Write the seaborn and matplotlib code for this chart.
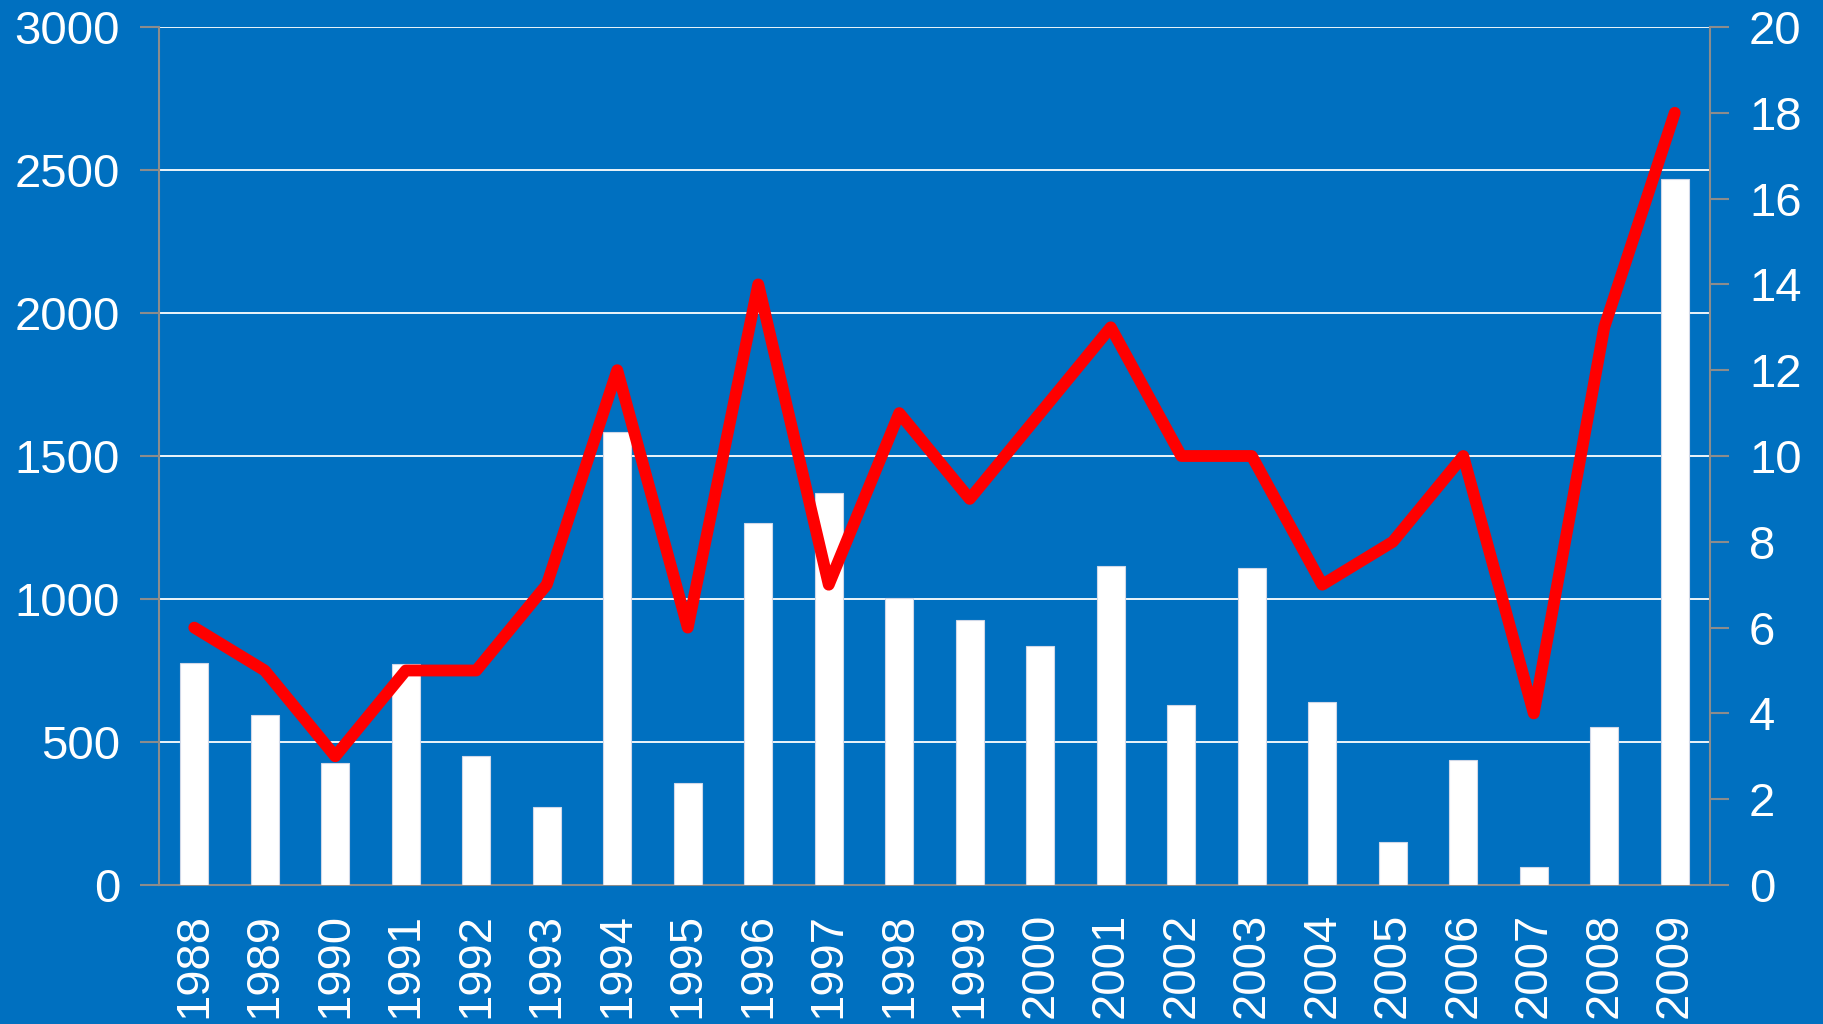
import numpy as np
import pandas as pd
import matplotlib
matplotlib.use("Agg")
import matplotlib.pyplot as plt
import seaborn as sns
from matplotlib.ticker import FixedLocator

years = [str(y) for y in range(1988, 2010)]
bar_values = [776, 596, 425, 774, 452, 274, 1584, 356, 1267, 1370, 1005, 925,
              836, 1114, 628, 1107, 639, 151, 438, 64, 553, 2468]
line_values = [6, 5, 3, 5, 5, 7, 12, 6, 14, 7, 11, 9, 11, 13, 10, 10, 7, 8, 10, 4, 13, 18]
left_ticks = [0, 500, 1000, 1500, 2000, 2500, 3000]
right_ticks = [0, 2, 4, 6, 8, 10, 12, 14, 16, 18, 20]

sns.set_theme(style="white")
plt.rcParams['font.family'] = ['Liberation Sans', 'DejaVu Sans']

BG = "#0070C0"
GREY = "#8C8C8C"

df = pd.DataFrame({"year": years, "bars": bar_values, "line": line_values,
                   "pos": np.arange(len(years))})

fig = plt.figure(figsize=(18.23, 10.24), dpi=100, facecolor=BG)
ax = fig.add_axes([159/1823, 1 - 885/1024, (1710-159)/1823, (885-27)/1024])
ax.set_facecolor(BG)

sns.barplot(data=df, x="year", y="bars", ax=ax, color="white", width=0.4,
            edgecolor="#D0D8E8", linewidth=0.8, saturation=1, zorder=3)
ax.set_ylim(0, 3000)
ax.set_xlim(-0.5, len(years) - 0.5)
ax.set_yticks(left_ticks)
ax.set_yticklabels([str(t) for t in left_ticks])
ax.yaxis.grid(True, color="white", linewidth=1.3, zorder=0)
ax.set_axisbelow(True)
ax.set_xlabel("")
ax.set_ylabel("")

ax.tick_params(axis="y", colors=GREY, labelcolor="white", labelsize=34,
               length=14, width=1.5, pad=14, direction="out")
ax.set_xticks(np.arange(len(years)))
ax.set_xticklabels(years, rotation=90)
ax.tick_params(axis="x", which="major", length=0, labelcolor="white", labelsize=34, pad=20)
ax.xaxis.set_minor_locator(FixedLocator(np.arange(len(years) + 1) - 0.5))
ax.tick_params(axis="x", which="minor", length=14, width=1.5, colors=GREY, direction="out")

for side in ["left", "bottom"]:
    ax.spines[side].set_color(GREY)
    ax.spines[side].set_linewidth(1.5)
ax.spines["top"].set_visible(False)
ax.spines["right"].set_visible(False)

ax2 = ax.twinx()
sns.lineplot(data=df, x="pos", y="line", ax=ax2, color="#FF0000", linewidth=8.5,
             solid_joinstyle="round", solid_capstyle="round", zorder=5)
ax2.set_ylim(0, 20)
ax2.set_yticks(right_ticks)
ax2.set_yticklabels([str(t) for t in right_ticks])
ax2.set_ylabel("")
ax2.set_xlabel("")
ax2.tick_params(axis="y", colors=GREY, labelcolor="white", labelsize=34,
                length=14, width=1.5, pad=14, direction="out")
ax2.spines["right"].set_color(GREY)
ax2.spines["right"].set_linewidth(1.5)
for side in ["left", "top", "bottom"]:
    ax2.spines[side].set_visible(False)
ax2.set_xlim(-0.5, len(years) - 0.5)

fig.savefig("out.png", dpi=100, facecolor=BG)
